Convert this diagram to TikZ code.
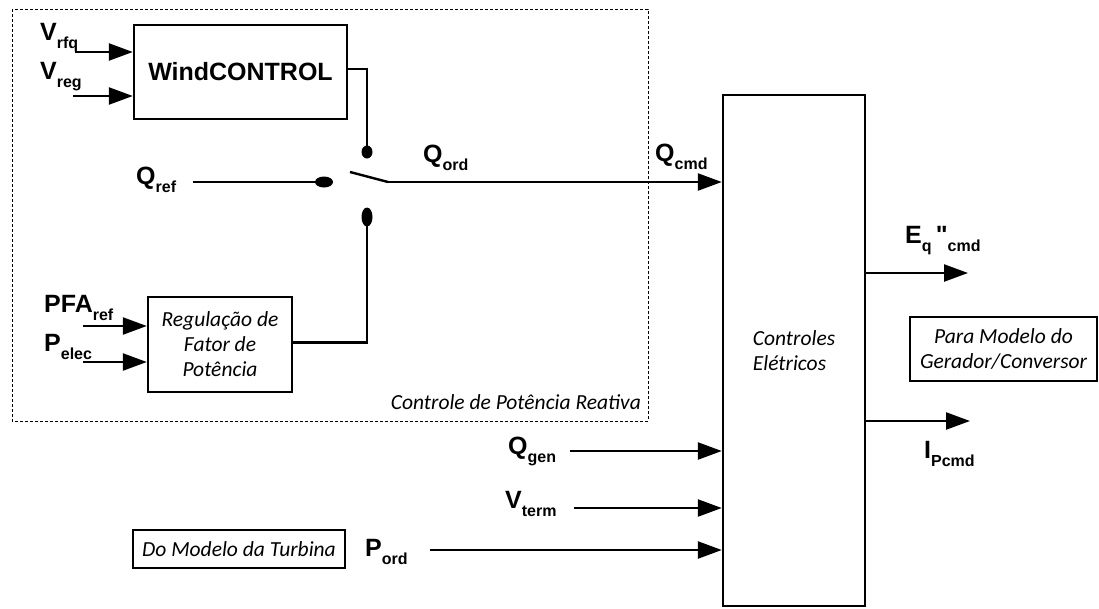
\documentclass[tikz,border=0pt]{standalone}
\usepackage{fontspec}
\setmainfont{Liberation Sans}
\newfontfamily\calib{Carlito}
\usetikzlibrary{arrows.meta,shapes.geometric,positioning}

% lowered subscript used in the signal names
\newcommand\lowsub[1]{\raisebox{-8.5pt}{\fontsize{16}{16}\selectfont\bfseries #1}}
% straight double quote, taken directly from the font's glyph table
\newcommand\straightdq{\XeTeXglyph\XeTeXcharglyph34\relax}

\tikzset{
  wire/.style={line width=2.4pt},
  sig/.style={wire,-{Triangle[length=24pt,width=17pt]}},
  blk/.style={draw,line width=2.4pt,inner sep=0pt},
  sname/.style={anchor=base west,inner sep=0pt,font=\fontsize{25}{25}\selectfont\bfseries},
  note/.style={font=\calib\itshape\fontsize{21.5}{25}\selectfont,align=center},
  contact/.style={ellipse,fill=black,inner sep=0pt},
}

\begin{document}
\begin{tikzpicture}[x=1pt,y=-1pt]
\useasboundingbox (0,0) rectangle (1099,608);

% reactive power control area
\draw[line width=1pt,dash pattern=on 3pt off 2pt] (12,9) rectangle (648,421);
\node[note,anchor=base east,inner sep=0pt] (crp) at (641,409) {Controle de Potência Reativa};

% blocks
\node[blk,minimum width=213pt,minimum height=94pt,
      font=\fontsize{25}{25}\selectfont\bfseries] (wc) at (240.5,72) {WindCONTROL};
\node[blk,minimum width=144pt,minimum height=95pt,note] (reg) at (220,344.5)
     {Regulação de\\Fator de\\Potência};
\node[blk,minimum width=142pt,minimum height=511pt,note,align=left] (ce) at (794,350.5)
     {Controles\\Elétricos};
\node[draw,line width=1.4pt,minimum width=187pt,minimum height=64pt,note] (para) at (1003.5,349)
     {Para Modelo do\\Gerador/Conversor};
\node[draw,line width=1.4pt,minimum width=212pt,minimum height=38pt,note] (turb) at (239,549)
     {Do Modelo da Turbina};

% switch contacts
\node[contact,minimum width=18pt,minimum height=11pt] (cref) at (324,182) {};
\node[contact,minimum width=11pt,minimum height=13pt] (ctop) at (367,152) {};
\node[contact,minimum width=11pt,minimum height=19pt] (cbot) at (367,217) {};

% signal names
\node[sname] (vrfq) at (40,40) {V\lowsub{rfq}};
\node[sname] (vreg) at (40,79) {V\lowsub{reg}};
\node[sname] (qref) at (136,184) {Q\lowsub{ref}};
\node[sname] (qord) at (423,162) {Q\lowsub{ord}};
\node[sname] (qcmd) at (655,161) {Q\lowsub{cmd}};
\node[sname] (pfa)  at (44,312) {PFA\lowsub{ref}};
\node[sname] (pel)  at (44,351) {P\lowsub{elec}};
\node[sname] (qgen) at (508,454) {Q\lowsub{gen}};
\node[sname] (vterm) at (505,508) {V\lowsub{term}};
\node[sname] (pord) at (365,556) {P\lowsub{ord}};
\node[sname] (eq)   at (905,243) {E\lowsub{q}\,\straightdq\lowsub{cmd}};
\node[sname] (ip)   at (924,458) {I\lowsub{Pcmd}};

% free ends of the connectors
\coordinate (vrfqin) at (75,52);
\coordinate (vregin) at (73,96);
\coordinate (qrefin) at (193,182);
\coordinate (bladeA) at (350,172);
\coordinate (bladeB) at (388,182);
\coordinate (pfain) at (83,326);
\coordinate (pelin) at (83,362);
\coordinate (qgenin) at (570,451);
\coordinate (vtermin) at (574,508);
\coordinate (pordin) at (430,550);
\coordinate (eqout) at (968,273);
\coordinate (ipout) at (970,421);

% connectors
\draw[sig] (vrfqin) -- (vrfqin -| wc.west);
\draw[sig] (vregin) -- (vregin -| wc.west);
\draw[wire] ([yshift=3pt]wc.east) -| (ctop.center);
\draw[wire] (qrefin) -- (cref.center);
\draw[wire] (bladeA) -- (bladeB);
\draw[sig] (bladeB) -- (bladeB -| ce.west);
\draw[wire] (cbot.center) |- ([yshift=2pt]reg.east);
\draw[sig] (pfain) -- (pfain -| reg.west);
\draw[sig] (pelin) -- (pelin -| reg.west);
\draw[sig] (qgenin) -- (qgenin -| ce.west);
\draw[sig] (vtermin) -- (vtermin -| ce.west);
\draw[sig] (pordin) -- (pordin -| ce.west);
\draw[sig] (eqout -| ce.east) -- (eqout);
\draw[sig] (ipout -| ce.east) -- (ipout);
\end{tikzpicture}
\end{document}
